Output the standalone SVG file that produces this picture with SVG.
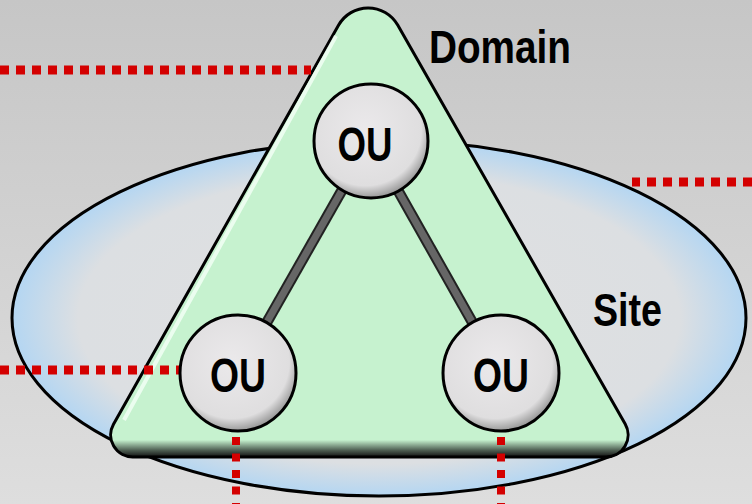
<svg xmlns="http://www.w3.org/2000/svg" width="752" height="504" viewBox="0 0 752 504">
<defs>
<linearGradient id="bg" x1="0" y1="0" x2="0" y2="1">
<stop offset="0" stop-color="#c6c6c6"/>
<stop offset="1" stop-color="#dedede"/>
</linearGradient>
<radialGradient id="siteFill" cx="0.5" cy="0.5" r="0.5">
<stop offset="0" stop-color="#e0e0e0"/>
<stop offset="0.82" stop-color="#dcdfe2"/>
<stop offset="1" stop-color="#b4d6f2"/>
</radialGradient>
<linearGradient id="domFill" x1="0" y1="0" x2="0" y2="1">
<stop offset="0" stop-color="#c6f2cf"/>
<stop offset="0.962" stop-color="#c6f2cf"/>
<stop offset="0.985" stop-color="#4e5e52"/>
<stop offset="1" stop-color="#111"/>
</linearGradient>
<radialGradient id="ouFill" cx="0.45" cy="0.4" r="0.6">
<stop offset="0" stop-color="#ebe9eb"/>
<stop offset="0.82" stop-color="#dfdedf"/>
<stop offset="1" stop-color="#9a9a9a"/>
</radialGradient>
</defs>
<style>
.lbl{font-family:"Liberation Sans",Arial,sans-serif;font-weight:bold;fill:#000;}
.ou circle{fill:url(#ouFill);stroke:#000;stroke-width:3;}
.ou text{font-size:48px;text-anchor:middle;}
.link-o{stroke:#222;stroke-width:11;stroke-linecap:butt;}
.link-i{stroke:#666;stroke-width:7;stroke-linecap:butt;}
.dot{stroke:#d40000;stroke-width:9;stroke-dasharray:9 7;fill:none;}
.dotv{stroke:#d40000;stroke-width:8;stroke-dasharray:8 8.5;fill:none;}
</style>
<rect width="752" height="504" fill="url(#bg)"/>
<g id="site">
<ellipse cx="379" cy="318" rx="367" ry="178" fill="url(#siteFill)" stroke="#000" stroke-width="3"/>
<text class="lbl" x="593" y="326" font-size="46" textLength="69" lengthAdjust="spacingAndGlyphs">Site</text>
</g>
<g id="domain">
<path d="M338.5,25.3 A34 34 0 0 1 397.7,25.1 L625.2,424.1 A22 22 0 0 1 606.1,457 L132.7,457 A22 22 0 0 1 113.5,424.2 Z" fill="url(#domFill)" stroke="#000" stroke-width="3" stroke-linejoin="round"/>
<path d="M336,36 L124,420" stroke="#f4fff6" stroke-width="4" fill="none" opacity="0.8"/>
<text class="lbl" x="429" y="63" font-size="47" textLength="142" lengthAdjust="spacingAndGlyphs">Domain</text>
</g>
<g id="connectors">
<line class="link-o" x1="370" y1="141" x2="238" y2="373"/>
<line class="link-i" x1="370" y1="141" x2="238" y2="373"/>
<line class="link-o" x1="370" y1="141" x2="501" y2="373"/>
<line class="link-i" x1="370" y1="141" x2="501" y2="373"/>
<line class="dot" x1="0" y1="70" x2="311" y2="70"/>
<line class="dot" x1="752" y1="182" x2="632" y2="182"/>
<line class="dot" x1="0" y1="370" x2="180" y2="370"/>
<line class="dotv" x1="236" y1="437" x2="236" y2="504"/>
<line class="dotv" x1="501" y1="437" x2="501" y2="504"/>
</g>
<g id="ou-top" class="ou">
<circle cx="371" cy="141" r="57"/>
<text class="lbl" x="365" y="161" textLength="55" lengthAdjust="spacingAndGlyphs">OU</text>
</g>
<g id="ou-left" class="ou">
<circle cx="238" cy="373" r="58"/>
<text class="lbl" x="238" y="392" textLength="56" lengthAdjust="spacingAndGlyphs">OU</text>
</g>
<g id="ou-right" class="ou">
<circle cx="501" cy="373" r="58"/>
<text class="lbl" x="501" y="392" textLength="56" lengthAdjust="spacingAndGlyphs">OU</text>
</g>
</svg>
